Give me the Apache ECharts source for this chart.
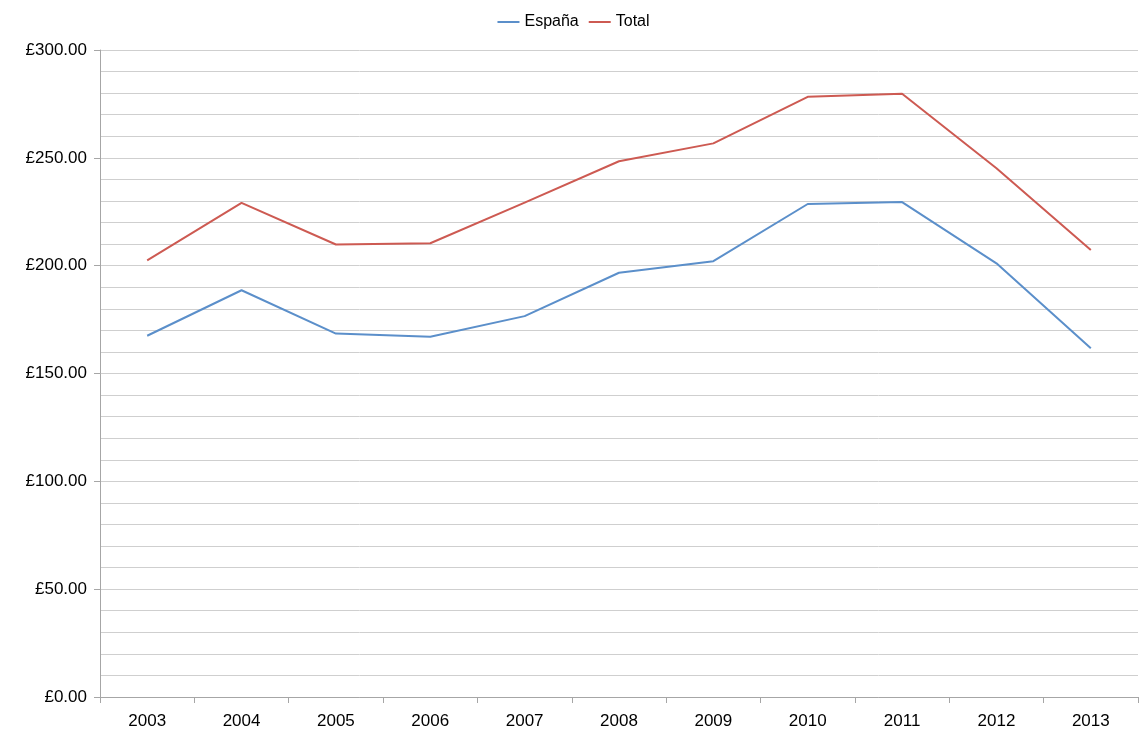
<!DOCTYPE html>
<html>
<head>
<meta charset="utf-8">
<script src="https://cdn.jsdelivr.net/npm/echarts@6/dist/echarts.min.js"></script>
<style>
html, body { margin: 0; padding: 0; background: #fff; }
#chart { width: 1147px; height: 733px; }
</style>
</head>
<body>
<div id="chart"></div>
<script>
var years = ['2003', '2004', '2005', '2006', '2007', '2008', '2009', '2010', '2011', '2012', '2013'];
var espana = [167.5, 188.6, 168.5, 167.0, 176.6, 196.7, 202.1, 228.6, 229.5, 201.1, 161.7];
var total = [202.5, 229.1, 209.8, 210.4, 229.2, 248.4, 256.7, 278.3, 279.7, 245.2, 207.3];

var dom = document.getElementById('chart');
var myChart = echarts.init(dom);
var font = 'Liberation Sans, Arial, sans-serif';

var option = {
    animation: false,
    legend: {
        top: 9,
        left: 'center',
        icon: 'rect',
        itemWidth: 22,
        itemHeight: 2,
        itemGap: 10,
        textStyle: { fontFamily: font, fontSize: 16, color: '#000' },
        data: ['España', 'Total']
    },
    grid: { left: 100, right: 9, top: 50, bottom: 36, containLabel: false },
    xAxis: {
        type: 'category',
        data: years,
        boundaryGap: true,
        axisLine: { lineStyle: { color: '#a6a6a6', width: 1 } },
        axisTick: { show: true, length: 6, lineStyle: { color: '#a6a6a6' } },
        axisLabel: { fontFamily: font, fontSize: 17, color: '#000', margin: 16 },
        splitLine: { show: false }
    },
    yAxis: {
        type: 'value',
        min: 0,
        max: 300,
        interval: 50,
        axisLine: { show: true, lineStyle: { color: '#a6a6a6', width: 1 } },
        axisTick: { show: true, length: 6, lineStyle: { color: '#a6a6a6' } },
        minorTick: { show: false, splitNumber: 5 },
        axisLabel: {
            fontFamily: font, fontSize: 17, color: '#000', margin: 13,
            formatter: function (v) { return '£' + v.toFixed(2); }
        },
        splitLine: { show: true, lineStyle: { color: '#cfcfcf', width: 1 } },
        minorSplitLine: { show: true, lineStyle: { color: '#cfcfcf', width: 1 } }
    },
    series: [
        {
            name: 'España',
            type: 'line',
            data: espana,
            symbol: 'none',
            lineStyle: { color: '#5b8fca', width: 2 },
            itemStyle: { color: '#5b8fca' }
        },
        {
            name: 'Total',
            type: 'line',
            data: total,
            symbol: 'none',
            lineStyle: { color: '#cd5a52', width: 2 },
            itemStyle: { color: '#cd5a52' }
        }
    ]
};

myChart.setOption(option, true);
</script>
</body>
</html>
